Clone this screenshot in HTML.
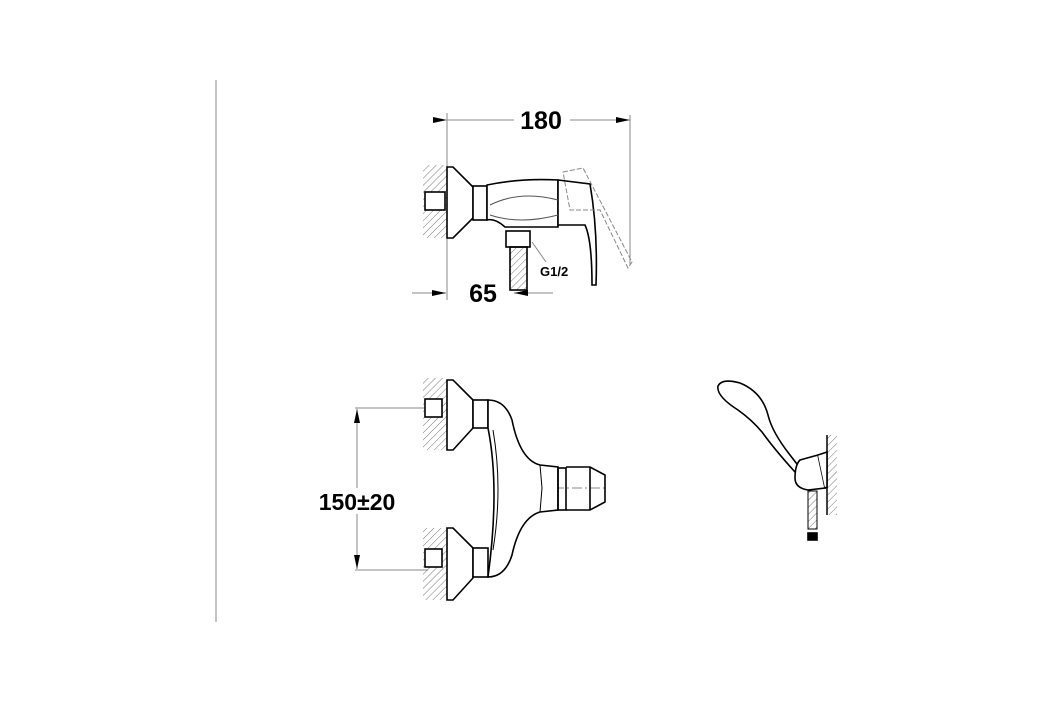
<!DOCTYPE html>
<html><head><meta charset="utf-8"><style>
html,body{margin:0;padding:0;background:#fff}
svg{display:block}
text{font-family:"Liberation Sans",Arial,sans-serif;font-weight:bold;fill:#000}
</style></head><body>
<svg width="1053" height="702" viewBox="0 0 1053 702" xmlns="http://www.w3.org/2000/svg">
<defs>
<pattern id="h" width="5" height="5" patternUnits="userSpaceOnUse" patternTransform="rotate(45)">
<line x1="0" y1="0" x2="0" y2="5" stroke="#777" stroke-width="1"/>
</pattern>
<marker id="a" viewBox="0 0 14 6" refX="14" refY="3" markerWidth="14" markerHeight="6" orient="auto" markerUnits="userSpaceOnUse">
<path d="M0,0 L14,3 L0,6z" fill="#000"/></marker>
</defs>
<line x1="216" y1="80" x2="216" y2="622" stroke="#888" stroke-width="1"/>

<!-- TOP VIEW -->
<g stroke="#888" stroke-width="1" fill="none">
<line x1="447" y1="113" x2="447" y2="300"/>
<line x1="630" y1="115" x2="630" y2="265"/>
<line x1="447" y1="120" x2="514" y2="120" marker-start="url(#a)"/>
<line x1="570" y1="120" x2="630" y2="120" marker-end="url(#a)"/>
<line x1="412" y1="293" x2="446" y2="293" marker-end="url(#a)"/>
<line x1="553" y1="293" x2="514" y2="293" marker-end="url(#a)"/>
<line x1="532" y1="242" x2="546" y2="262"/>
</g>
<text x="541" y="129" font-size="25" text-anchor="middle">180</text>
<text x="483" y="302" font-size="25" text-anchor="middle">65</text>
<text x="540" y="276" font-size="13">G1/2</text>
<rect x="423" y="165" width="24" height="73" fill="url(#h)"/>
<g stroke="#000" stroke-width="1.6" fill="#fff">
<rect x="425" y="192" width="20" height="18"/>
<path d="M447,167 L453,167 L473,187 L473,218 L453,238 L447,238z"/>
<rect x="473" y="186" width="14" height="34"/>
<path d="M487,185 Q520,178 558,180 L558,227 L505,227 Q495,218 487,220z"/>
<path d="M558,180 L590,184 Q598,230 596,285 L592,285 Q592,240 585,225 L558,225z"/>
<rect x="506" y="231" width="24" height="16"/>
<rect x="510" y="247" width="17" height="43" fill="url(#h)"/>
</g>
<path d="M563,172 L583,168 L632,262 L628,268 L600,210 L570,210z" fill="none" stroke="#888" stroke-width="1" stroke-dasharray="5,2"/>
<path d="M490,205 Q520,190 558,200 M490,215 Q520,225 558,215" stroke="#555" fill="none"/>

<!-- FRONT VIEW -->
<g stroke="#888" stroke-width="1" fill="none">
<line x1="355" y1="408" x2="428" y2="408"/>
<line x1="355" y1="570" x2="428" y2="570"/>
<line x1="357" y1="488" x2="357" y2="409" marker-end="url(#a)"/>
<line x1="357" y1="514" x2="357" y2="569" marker-end="url(#a)"/>
<line x1="500" y1="488" x2="605" y2="488" stroke-dasharray="10,3,2,3"/>
</g>
<text x="357" y="510" font-size="23" text-anchor="middle">150±20</text>
<rect x="423" y="378" width="24" height="72" fill="url(#h)"/>
<rect x="423" y="528" width="24" height="72" fill="url(#h)"/>
<g stroke="#000" stroke-width="1.6" fill="none">
<rect x="425" y="399" width="17" height="18" fill="#fff"/>
<rect x="425" y="549" width="17" height="18" fill="#fff"/>
<path d="M447,380 L453,380 L473,400 L473,428 L453,450 L447,450z" fill="#fff"/>
<path d="M447,528 L453,528 L473,548 L473,578 L453,600 L447,600z" fill="#fff"/>
<rect x="473" y="400" width="15" height="28" fill="#fff"/>
<rect x="473" y="548" width="15" height="29" fill="#fff"/>
<path d="M488,400 Q505,400 512,420 Q520,460 540,465 L558,467 L558,510 L540,512 Q520,518 512,555 Q505,577 488,577 Q500,488 488,428z" fill="#fff"/>
<path d="M540,465 L542,488 L540,512" stroke-width="1"/>
<path d="M493,430 Q503,488 493,550" stroke-width="1"/>
<rect x="558" y="468" width="8" height="42"/>
<path d="M566,467 L590,467 L605,475 L605,502 L590,510 L566,510"/>
<path d="M590,467 L590,510"/>
</g>

<!-- HAND SHOWER -->
<rect x="827" y="435" width="10" height="80" fill="url(#h)"/>
<line x1="827" y1="435" x2="827" y2="515" stroke="#000" stroke-width="1.5"/>
<g stroke="#000" stroke-width="1.6" fill="#fff">
<path d="M718,386 Q722,378 740,383 Q762,392 768,415 Q772,432 790,455 L800,468 L795,472 Q775,450 762,432 Q752,420 738,410 Q716,396 718,386z"/>
<path d="M800,460 L818,455 L825,488 L808,490 Q795,488 795,478 Q795,465 800,460z"/>
<path d="M818,455 L827,452 L827,487 L825,488"/>
<rect x="808" y="491" width="9" height="38" fill="url(#h)" stroke-width="1"/>
<rect x="808" y="533" width="9" height="7" fill="#000"/>
</g>
</svg>
</body></html>
